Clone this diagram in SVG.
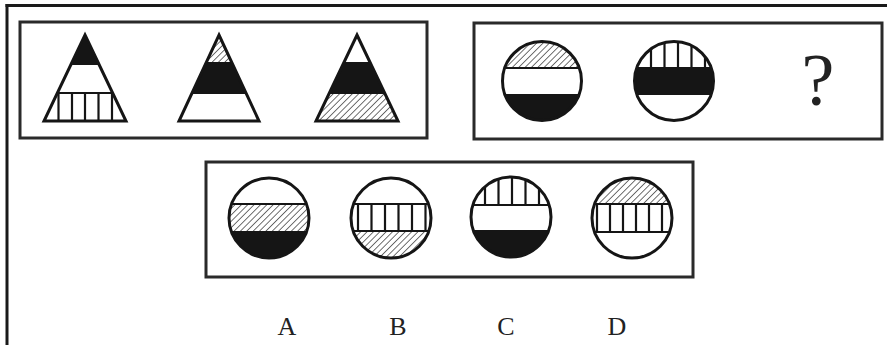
<svg xmlns="http://www.w3.org/2000/svg" width="887" height="345" viewBox="0 0 887 345">
<style>
.frame{fill:none;stroke:#1a1a1a;stroke-width:3}
.box{fill:none;stroke:#2a2a2a;stroke-width:3}
.out{fill:none;stroke:#151515;stroke-width:3}
.blk{fill:#151515}
.wht{fill:#fff}
.hat{fill:url(#hatch)}
.sep{stroke:#151515;stroke-width:2}
.stripe{stroke:#151515;stroke-width:2.2}
.lbl{font-family:"Liberation Serif","Times New Roman",serif;fill:#222;text-anchor:middle}
</style>
<defs>
<pattern id="hatch" patternUnits="userSpaceOnUse" width="4.5" height="4.5" patternTransform="rotate(45)">
<rect width="4.5" height="4.5" fill="#fff"/>
<line x1="0" y1="0" x2="0" y2="4.5" stroke="#333" stroke-width="1.4"/>
</pattern>
<clipPath id="ct1"><polygon points="85,35 126,121 44,121"/></clipPath>
<clipPath id="ct2"><polygon points="219,35 259,121 179,121"/></clipPath>
<clipPath id="ct3"><polygon points="357,35 398,121 316,121"/></clipPath>
<clipPath id="cc1"><circle cx="542" cy="81" r="39.5"/></clipPath>
<clipPath id="cc2"><circle cx="674" cy="81" r="39.5"/></clipPath>
<clipPath id="cA"><circle cx="269" cy="218" r="40"/></clipPath>
<clipPath id="cB"><circle cx="391" cy="218" r="40"/></clipPath>
<clipPath id="cC"><circle cx="511" cy="217" r="40"/></clipPath>
<clipPath id="cD"><circle cx="632" cy="218" r="40"/></clipPath>
</defs>
<rect width="887" height="345" fill="#fff"/>
<g id="outer-frame">
<line class="frame" x1="5.5" y1="5.5" x2="887" y2="5.5"/>
<line class="frame" x1="7" y1="4" x2="7" y2="345"/>
</g>
<g id="box1">
<rect class="box" x="20" y="22" width="407" height="116"/>
</g>
<g id="box2">
<rect class="box" x="474" y="23" width="408" height="116"/>
</g>
<g id="box3">
<rect class="box" x="206" y="162" width="487" height="115"/>
</g>
<g id="tri1">
<g clip-path="url(#ct1)">
<rect class="blk" x="40" y="30" width="95" height="34"/>
<rect class="wht" x="40" y="64" width="95" height="29"/>
<line class="sep" x1="40" y1="64" x2="135" y2="64"/>
<line class="sep" x1="40" y1="93" x2="135" y2="93"/>
<g class="stripe"><line x1="58.5" y1="93" x2="58.5" y2="121"/><line x1="72" y1="93" x2="72" y2="121"/><line x1="85" y1="93" x2="85" y2="121"/><line x1="98.5" y1="93" x2="98.5" y2="121"/><line x1="112" y1="93" x2="112" y2="121"/></g>
</g>
<polygon class="out" points="85,35 126,121 44,121"/>
</g>
<g id="tri2">
<g clip-path="url(#ct2)">
<rect class="hat" x="175" y="30" width="90" height="33"/>
<rect class="blk" x="175" y="63" width="90" height="30"/>
<line class="sep" x1="175" y1="63" x2="265" y2="63"/>
<line class="sep" x1="175" y1="93" x2="265" y2="93"/>
</g>
<polygon class="out" points="219,35 259,121 179,121"/>
</g>
<g id="tri3">
<g clip-path="url(#ct3)">
<rect class="blk" x="310" y="63" width="95" height="30"/>
<rect class="hat" x="310" y="93" width="95" height="30"/>
<line class="sep" x1="310" y1="63" x2="405" y2="63"/>
<line class="sep" x1="310" y1="93" x2="405" y2="93"/>
</g>
<polygon class="out" points="357,35 398,121 316,121"/>
</g>
<g id="circle1">
<g clip-path="url(#cc1)">
<rect class="hat" x="500" y="40" width="85" height="28"/>
<rect class="blk" x="500" y="94" width="85" height="30"/>
<line class="sep" x1="500" y1="68" x2="585" y2="68"/>
</g>
<circle class="out" cx="542" cy="81" r="39.5"/>
</g>
<g id="circle2">
<g clip-path="url(#cc2)">
<rect class="blk" x="630" y="68" width="90" height="27"/>
<line class="sep" x1="630" y1="68" x2="720" y2="68"/>
<g class="stripe"><line x1="651" y1="40" x2="651" y2="68"/><line x1="664.5" y1="40" x2="664.5" y2="68"/><line x1="678" y1="40" x2="678" y2="68"/><line x1="691.5" y1="40" x2="691.5" y2="68"/><line x1="705" y1="40" x2="705" y2="68"/></g>
</g>
<circle class="out" cx="674" cy="81" r="39.5"/>
</g>
<g id="question">
<text class="lbl" x="818" y="105" font-size="74" fill="#1a1a1a">?</text>
</g>
<g id="optA">
<g clip-path="url(#cA)">
<rect class="hat" x="225" y="204" width="90" height="27"/>
<rect class="blk" x="225" y="231" width="90" height="30"/>
<line class="sep" x1="225" y1="204" x2="315" y2="204"/>
</g>
<circle class="out" cx="269" cy="218" r="40"/>
</g>
<g id="optB">
<g clip-path="url(#cB)">
<rect class="hat" x="348" y="231" width="90" height="30"/>
<line class="sep" x1="348" y1="204" x2="438" y2="204"/>
<line class="sep" x1="348" y1="231" x2="438" y2="231"/>
<g class="stripe"><line x1="358" y1="204" x2="358" y2="231"/><line x1="371.5" y1="204" x2="371.5" y2="231"/><line x1="385" y1="204" x2="385" y2="231"/><line x1="398.5" y1="204" x2="398.5" y2="231"/><line x1="412" y1="204" x2="412" y2="231"/><line x1="425.5" y1="204" x2="425.5" y2="231"/></g>
</g>
<circle class="out" cx="391" cy="218" r="40"/>
</g>
<g id="optC">
<g clip-path="url(#cC)">
<rect class="blk" x="468" y="231" width="90" height="30"/>
<line class="sep" x1="468" y1="205" x2="558" y2="205"/>
<line class="sep" x1="468" y1="231" x2="558" y2="231"/>
<g class="stripe"><line x1="485" y1="174" x2="485" y2="205"/><line x1="498.5" y1="174" x2="498.5" y2="205"/><line x1="512" y1="174" x2="512" y2="205"/><line x1="525.5" y1="174" x2="525.5" y2="205"/><line x1="539" y1="174" x2="539" y2="205"/></g>
</g>
<circle class="out" cx="511" cy="217" r="40"/>
</g>
<g id="optD">
<g clip-path="url(#cD)">
<rect class="hat" x="588" y="175" width="90" height="29"/>
<line class="sep" x1="588" y1="204" x2="678" y2="204"/>
<line class="sep" x1="588" y1="232" x2="678" y2="232"/>
<g class="stripe"><line x1="597" y1="204" x2="597" y2="232"/><line x1="610" y1="204" x2="610" y2="232"/><line x1="623" y1="204" x2="623" y2="232"/><line x1="636" y1="204" x2="636" y2="232"/><line x1="649" y1="204" x2="649" y2="232"/><line x1="662" y1="204" x2="662" y2="232"/></g>
</g>
<circle class="out" cx="632" cy="218" r="40"/>
</g>
<g id="labels">
<text class="lbl" x="287" y="335" font-size="26">A</text>
<text class="lbl" x="398" y="335" font-size="26">B</text>
<text class="lbl" x="506" y="335" font-size="26">C</text>
<text class="lbl" x="617" y="335" font-size="26">D</text>
</g>
</svg>
